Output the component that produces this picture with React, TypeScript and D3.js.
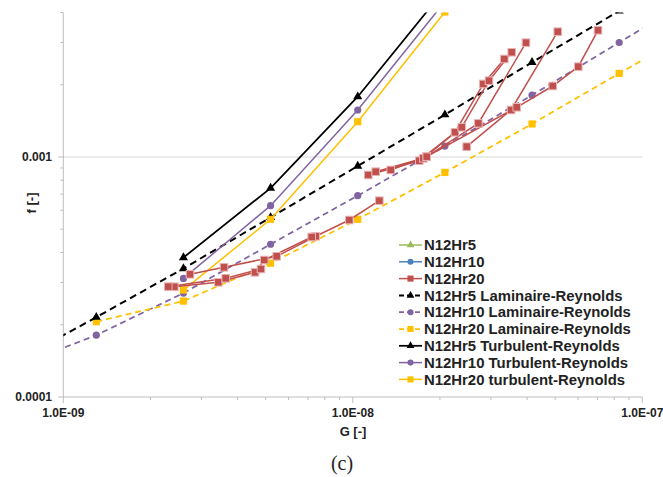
import React from 'react';
import * as d3 from 'd3';

const W = 663, H = 477;
const X0 = 63.3, X1 = 642.3, YB = 397, YT = 12.5;

// Laminaire-Reynolds (dashed)
const gLam5 = [6.5e-10, 1.3e-9, 2.6e-9, 5.2e-9, 1.04e-8, 2.08e-8, 4.16e-8, 8.32e-8];
const fLam5 = [1.36e-4, 2.15e-4, 3.43e-4, 5.6e-4, 9.17e-4, 1.5e-3, 2.48e-3, 4.06e-3];
const gLam10 = [6.5e-10, 1.3e-9, 2.6e-9, 5.2e-9, 1.04e-8, 2.08e-8, 4.16e-8, 8.32e-8, 1.664e-7];
const fLam10 = [1.31e-4, 1.81e-4, 2.71e-4, 4.33e-4, 6.9e-4, 1.11e-3, 1.81e-3, 3.0e-3, 4.97e-3];
const gLam20 = [1.3e-9, 2.6e-9, 5.2e-9, 1.04e-8, 2.08e-8, 4.16e-8, 8.32e-8, 1.664e-7];
const fLam20 = [2.06e-4, 2.51e-4, 3.61e-4, 5.5e-4, 8.63e-4, 1.373e-3, 2.23e-3, 3.62e-3];

// Turbulent-Reynolds (solid)
const gTurb = [2.6e-9, 5.2e-9, 1.04e-8, 2.08e-8];
const fTurb5 = [3.81e-4, 7.42e-4, 1.783e-3, 4.99e-3];
const fTurb10 = [3.12e-4, 6.27e-4, 1.57e-3, 4.44e-3];
const fTurb20 = [2.79e-4, 5.5e-4, 1.403e-3, 4.02e-3];

// N12Hr20 measured runs [G, f]
const hr20RunA: [number, number][] = [[2.74e-9, 3.245e-4], [3.59e-9, 3.47e-4], [5.459e-9, 3.857e-4], [7.444e-9, 4.673e-4], [9.725e-9, 5.464e-4], [1.235e-8, 6.577e-4]];
const hr20RunB: [number, number][] = [[2.418e-9, 2.88e-4], [3.431e-9, 3.006e-4], [4.594e-9, 3.307e-4], [4.946e-9, 3.723e-4], [7.211e-9, 4.642e-4]];
const hr20RunC: [number, number][] = [[2.305e-9, 2.882e-4], [3.639e-9, 3.123e-4], [4.818e-9, 3.415e-4]];
const hr20RunD: [number, number][] = [[1.131e-8, 8.414e-4], [1.697e-8, 9.65e-4], [2.254e-8, 1.268e-3], [2.824e-8, 2.015e-3], [3.337e-8, 2.561e-3]];
const hr20RunE: [number, number][] = [[1.2e-8, 8.685e-4], [1.752e-8, 9.876e-4], [2.378e-8, 1.33e-3], [2.954e-8, 2.079e-3], [3.539e-8, 2.731e-3]];
const hr20RunF: [number, number][] = [[1.352e-8, 8.83e-4], [1.8e-8, 1.003e-3], [2.714e-8, 1.381e-3], [3.965e-8, 2.995e-3]];
const hr20RunG: [number, number][] = [[2.474e-8, 1.104e-3], [3.52e-8, 1.57e-3], [5.104e-8, 3.328e-3]];
const hr20RunH: [number, number][] = [[1.8e-8, 1.003e-3], [3.683e-8, 1.611e-3], [4.904e-8, 1.976e-3], [6.009e-8, 2.379e-3], [7.03e-8, 3.373e-3]];
const hr20Runs = [hr20RunA, hr20RunB, hr20RunC, hr20RunD, hr20RunE, hr20RunF, hr20RunG, hr20RunH];

const legendLabels = [
  'N12Hr5', 'N12Hr10', 'N12Hr20',
  'N12Hr5 Laminaire-Reynolds', 'N12Hr10 Laminaire-Reynolds', 'N12Hr20 Laminaire-Reynolds',
  'N12Hr5 Turbulent-Reynolds', 'N12Hr10 Turbulent-Reynolds', 'N12Hr20 turbulent-Reynolds',
];
const xTickLabels = ['1.0E-09', '1.0E-08', '1.0E-07'];
const yTickLabels = ['0.0001', '0.001'];

const BLACK = '#000000', PURPLE = '#8064A2', YELLOW = '#FFC000', RED = '#C0504D', GREEN = '#9BBB59', BLUE = '#4F81BD';

type Mk = 'tri' | 'circ' | 'sq';
const legendStyle: { color: string; dash?: string; mk: Mk; w: number }[] = [
  { color: GREEN, mk: 'tri', w: 1.5 },
  { color: BLUE, mk: 'circ', w: 1.5 },
  { color: RED, mk: 'sq', w: 1.5 },
  { color: BLACK, mk: 'tri', w: 2, dash: '5,3' },
  { color: PURPLE, mk: 'circ', w: 1.75, dash: '5,3' },
  { color: YELLOW, mk: 'sq', w: 1.75, dash: '5,3' },
  { color: BLACK, mk: 'tri', w: 1.75 },
  { color: PURPLE, mk: 'circ', w: 1.5 },
  { color: YELLOW, mk: 'sq', w: 1.5 },
];

const x = d3.scaleLog().domain([1e-9, 1e-7]).range([X0, X1]);
const y = d3.scaleLog().domain([1e-4, 0.004]).range([YB, YT]);

function marker(mk: Mk, cx: number, cy: number, color: string, key: any, s = 1, stroke?: string) {
  if (mk === 'circ') return <circle key={key} cx={cx} cy={cy} r={3.6 * s} fill={color} />;
  if (mk === 'sq') return <rect key={key} x={cx - 3.6 * s} y={cy - 3.6 * s} width={7.2 * s} height={7.2 * s} fill={color} stroke={stroke} strokeWidth={stroke ? 1 : 0} />;
  const p = d3.symbol(d3.symbolTriangle, 36 * s * s)();
  return <path key={key} d={p as string} transform={`translate(${cx},${cy})`} fill={color} />;
}

function Series({ g, f, color, dash, w, mk, sq }: { g: number[]; f: number[]; color: string; dash?: string; w: number; mk: Mk; sq?: number }) {
  const pts = g.map((gv, i) => [x(gv), y(f[i])] as [number, number]);
  const line = d3.line();
  return (
    <g>
      <path d={line(pts) as string} fill="none" stroke={color} strokeWidth={w} strokeDasharray={dash} />
      {pts.map((p, i) => marker(mk, p[0], p[1], color, i, sq ?? 1))}
    </g>
  );
}

export default function App() {
  const xMinor: number[] = [];
  for (const dec of [1e-9, 1e-8]) for (let k = 2; k <= 9; k++) xMinor.push(k * dec);
  const yMinor: number[] = [];
  for (let k = 2; k <= 9; k++) yMinor.push(k * 1e-4);
  for (let k = 2; k <= 4; k++) yMinor.push(k * 1e-3);
  const line = d3.line();
  const font = "'Liberation Sans', Arial, sans-serif";
  return (
    <svg width={W} height={H} style={{ position: 'absolute', left: 0, top: 0, background: '#fff' }}>
      <defs>
        <clipPath id="plot"><rect x={X0} y={YT} width={X1 - X0} height={YB - YT} /></clipPath>
      </defs>
      <line x1={X0} x2={X1} y1={y(1e-3)} y2={y(1e-3)} stroke="#d9d9d9" strokeWidth={1} />
      <line x1={X0} x2={X0} y1={YT} y2={YB} stroke="#bfbfbf" strokeWidth={1} />
      <line x1={X0} x2={X1} y1={YB} y2={YB} stroke="#bfbfbf" strokeWidth={1} />
      {yMinor.map((v, i) => <line key={'ym' + i} x1={X0 - 3} x2={X0} y1={y(v)} y2={y(v)} stroke="#bfbfbf" />)}
      {[1e-4, 1e-3].map((v, i) => <line key={'yM' + i} x1={X0 - 5} x2={X0} y1={y(v)} y2={y(v)} stroke="#bfbfbf" />)}
      {xMinor.map((v, i) => <line key={'xm' + i} x1={x(v)} x2={x(v)} y1={YB} y2={YB + 3} stroke="#bfbfbf" />)}
      {[1e-9, 1e-8, 1e-7].map((v, i) => <line key={'xM' + i} x1={x(v)} x2={x(v)} y1={YB} y2={YB + 6} stroke="#bfbfbf" />)}
      {[1e-9, 1e-8, 1e-7].map((v, i) => (
        <text key={'xl' + i} x={x(v)} y={417} textAnchor="middle" fontFamily={font} fontWeight="bold" fontSize={12} fill="#222">{xTickLabels[i]}</text>
      ))}
      {[1e-4, 1e-3].map((v, i) => (
        <text key={'yl' + i} x={52} y={y(v) + 4.3} textAnchor="end" fontFamily={font} fontWeight="bold" fontSize={12} fill="#222">{yTickLabels[i]}</text>
      ))}
      <text x={0} y={0} transform={`translate(36,203) rotate(-90)`} textAnchor="middle" fontFamily={font} fontWeight="bold" fontSize={13} fill="#222">f [-]</text>
      <text x={353} y={436} textAnchor="middle" fontFamily={font} fontWeight="bold" fontSize={13} fill="#222">G [-]</text>
      <text x={342} y={470} textAnchor="middle" fontFamily="'Liberation Serif', 'DejaVu Serif', serif" fontSize={20} fill="#222">(c)</text>

      <g clipPath="url(#plot)">
        <Series g={gLam10} f={fLam10} color={PURPLE} dash="6,4" w={1.75} mk="circ" />
        <Series g={gLam20} f={fLam20} color={YELLOW} dash="6,4" w={1.75} mk="sq" />
        <Series g={gLam5} f={fLam5} color={BLACK} dash="7,4.5" w={2} mk="tri" />
        <Series g={gTurb} f={fTurb5} color={BLACK} w={1.75} mk="tri" />
        <Series g={gTurb} f={fTurb10} color={PURPLE} w={1.5} mk="circ" />
        <Series g={gTurb} f={fTurb20} color={YELLOW} w={1.5} mk="sq" />
        {hr20Runs.map((run, ri) => (
          <path key={'r' + ri} d={line(run.map(([g, f]) => [x(g), y(f)] as [number, number])) as string} fill="none" stroke={RED} strokeWidth={1.5} />
        ))}
        {hr20Runs.map((run, ri) => (
          <g key={'rm' + ri}>
            {run.map(([g, f], i) => marker('sq', x(g), y(f), RED, i, 1.05, '#E8B4B3'))}
          </g>
        ))}
      </g>

      {legendLabels.map((lab, i) => {
        const st = legendStyle[i];
        const cy = 245 + i * 16.8;
        return (
          <g key={'lg' + i}>
            <line x1={399} x2={422} y1={cy} y2={cy} stroke={st.color} strokeWidth={st.w} strokeDasharray={st.dash} />
            {marker(st.mk, 410.5, cy, st.color, 'm', 0.85)}
            <text x={424} y={cy + 5.2} fontFamily={font} fontWeight="bold" fontSize={14.9} fill="#222">{lab}</text>
          </g>
        );
      })}
    </svg>
  );
}
